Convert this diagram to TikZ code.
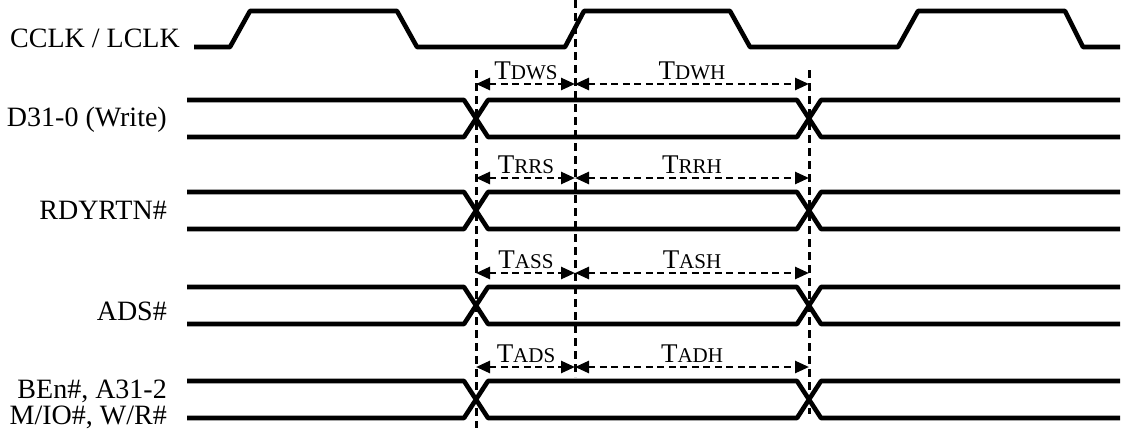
\documentclass[tikz,border=0pt]{standalone}
\usepackage{fontspec}
\setmainfont{Liberation Serif}
\usetikzlibrary{arrows.meta}
\newcommand\tlab[2]{{\fontsize{27}{27}\selectfont #1}{\fontsize{21}{21}\selectfont #2}}
\begin{document}
\begin{tikzpicture}[x=1pt,y=-1pt,
  wave/.style={line width=4.6pt,line join=round,line cap=butt},
  guide/.style={line width=3pt,dash pattern=on 8pt off 5pt},
  span/.style={line width=2.6pt,dash pattern=on 7pt off 4.5pt,
    {Triangle[length=14pt,width=12pt]}-{Triangle[length=14pt,width=12pt]}},
  siglabel/.style={anchor=base east,inner sep=0pt,font=\fontsize{28}{26}\selectfont,align=right},
  tlabel/.style={anchor=base,inner sep=0pt}]
\useasboundingbox (0,0) rectangle (1122,432);
% clock
\node[siglabel] (clk) at (180,47) {CCLK / LCLK};
\draw[wave] (194,47) -- (230,47) -- (250,11) -- (397,11) -- (417,47) -- (565,47) -- (584,11) -- (730,11) -- (750,47) -- (898,47) -- (918,11) -- (1065,11) -- (1083,47) -- (1120,47);
% guide coordinates
\coordinate (Lt) at (476,70);  \coordinate (Lb) at (476,428);
\coordinate (Mt) at (575,0);   \coordinate (Mb) at (575,377);
\coordinate (Rt) at (809,70);  \coordinate (Rb) at (809,414);
\draw[guide] (Lt) -- (Lb);
\draw[guide] (Mt) -- (Mb);
\draw[guide] (Rt) -- (Rb);
% bus rows
\foreach \t/\a/\n/\s/\h in {100/84/d/DWS/DWH, 192/178/r/RRS/RRH, 287/273/a/ASS/ASH, 381/367/b/ADS/ADH}{
  \pgfmathsetmacro\bb{\t+37}
  \draw[wave] (187,\t) -- (464,\t) -- (488,\bb) -- (797,\bb) -- (821,\t) -- (1120,\t);
  \draw[wave] (187,\bb) -- (464,\bb) -- (488,\t) -- (797,\t) -- (821,\bb) -- (1120,\bb);
  \coordinate (\n L) at (476,\a);
  \coordinate (\n M) at (575,\a);
  \coordinate (\n R) at (809,\a);
  \draw[span] (\n L) -- (\n M);
  \draw[span] (\n M) -- (\n R);
  \node[tlabel] (\n s) at (526,\a-5) {\tlab{T}{\s}};
  \node[tlabel] (\n h) at (692,\a-5) {\tlab{T}{\h}};
}
\node[siglabel] (dlab) at (167,126) {D31-0 (Write)};
\node[siglabel] (rlab) at (167,219) {RDYRTN\#};
\node[siglabel] (alab) at (167,320) {ADS\#};
\node[siglabel] (blab) at (167,398) {BEn\#, A31-2};
\node[siglabel] (blab2) at (167,424) {M/IO\#, W/R\#};
\end{tikzpicture}
\end{document}
